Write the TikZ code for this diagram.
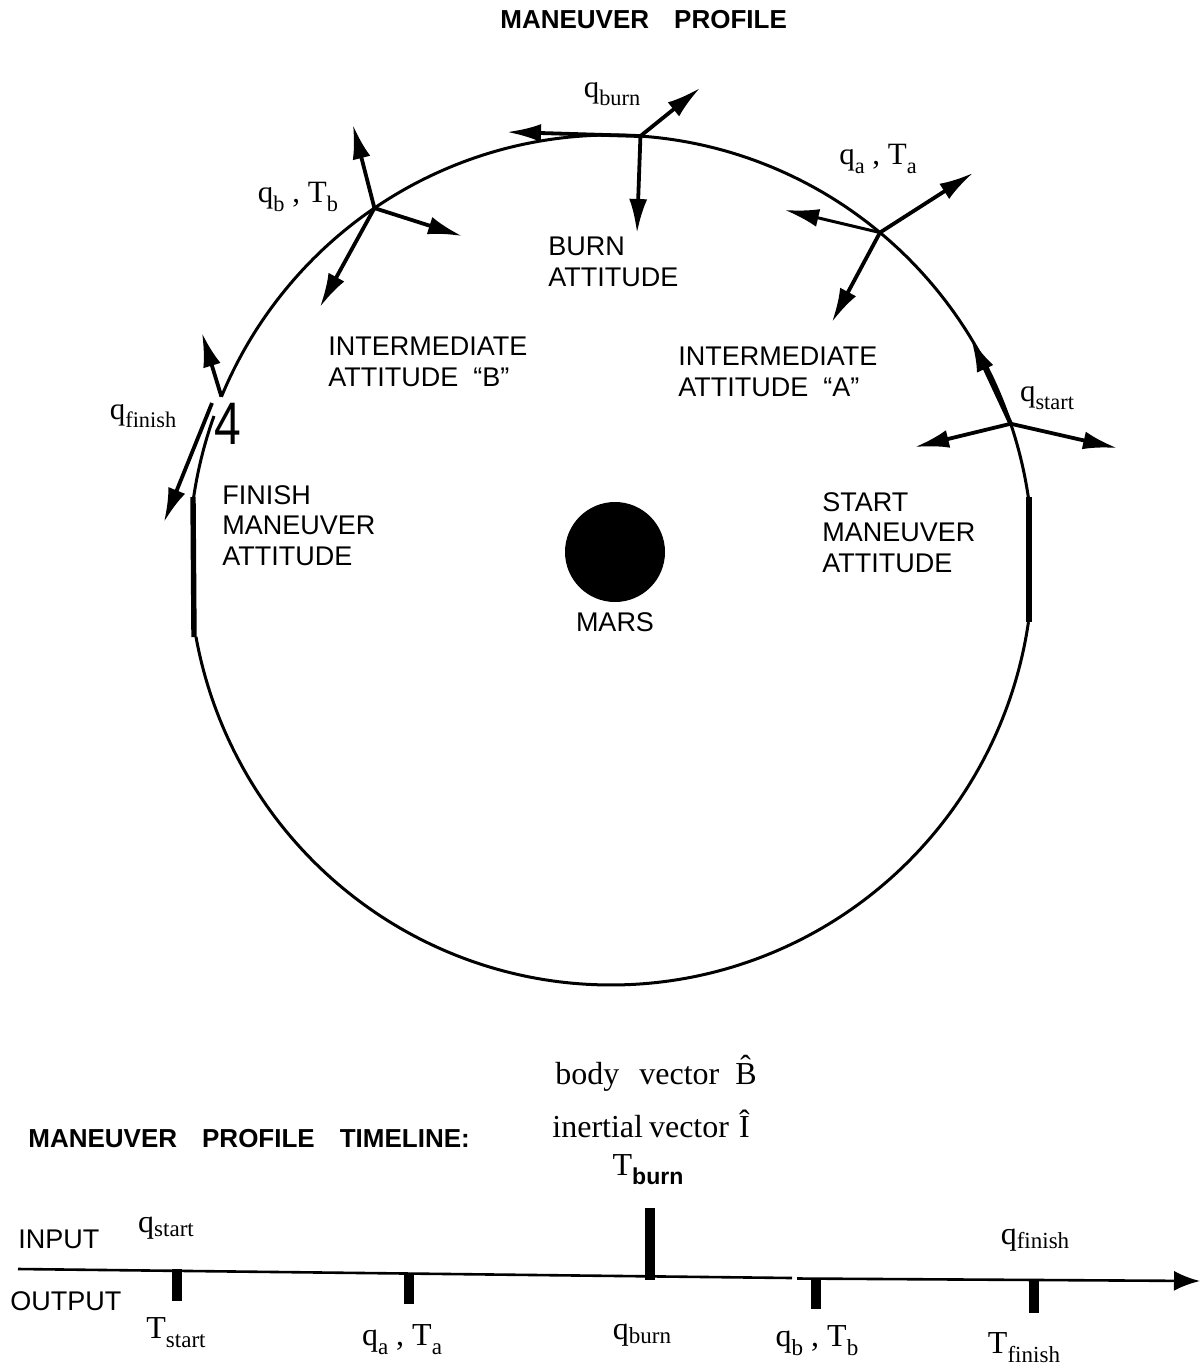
\documentclass[tikz,border=0pt]{standalone}
\usepackage{fontspec}
\setmainfont{Liberation Serif}
\setsansfont{Liberation Sans}
\usetikzlibrary{arrows.meta}

% lowered, reduced text used for the q/T indices
\newcommand\idx[1]{\raisebox{-0.28em}{\scalebox{0.72}{#1}}}
\newcommand\idxhi[1]{\raisebox{-0.12em}{\scalebox{0.72}{#1}}}

\begin{document}
\begin{tikzpicture}[x=0.5pt,y=-0.5pt,
  orbit/.style={line width=1.5pt},
  bar/.style={line width=2.7pt},
  vec/.style={line width=1.9pt,-{Latex[length=17pt,width=9pt]}},
  caption/.style={font=\sffamily\fontsize{13.5}{15.3}\selectfont,align=left,inner sep=0pt,anchor=north west},
  heading/.style={font=\sffamily\bfseries\fontsize{13}{15}\selectfont,inner sep=0pt,anchor=base west},
  qlab/.style={font=\fontsize{15.5}{17}\selectfont,inner sep=0pt},
  tlab/.style={font=\fontsize{16}{18}\selectfont,inner sep=0pt},
  timeline/.style={line width=1.3pt},
  tick/.style={line width=4.6pt},
]
\useasboundingbox (0,0) rectangle (1201,1366);

% ---------------- title ----------------
\node[heading] (title) at (500,28) {MANEUVER\hspace{12.5pt}PROFILE};

% ---------------- orbit ----------------
\draw[orbit] plot[domain=8.5:157.4,samples=160] ({611+422*cos(\x)},{560-425*sin(\x)});
\draw[orbit] plot[domain=160.2:171.5,samples=20] ({611+422*cos(\x)},{560-425*sin(\x)});
\draw[orbit] plot[domain=190.4:351.6,samples=170] ({611+422*cos(\x)},{560-425*sin(\x)});

% thick segments marking the start and finish attitudes
\coordinate (finTop) at (193,497);
\coordinate (finBot) at (194,637);
\coordinate (staTop) at (1029,497);
\coordinate (staBot) at (1029,622);
\draw[bar] (finTop) -- (finBot);
\draw[bar] (staTop) -- (staBot);

% Mars
\coordinate (mars) at (615,552);
\fill (mars) circle[radius=25pt];
\node[caption,anchor=north] (marslab) at (615,612) {MARS};

% ---------------- attitude points ----------------
\coordinate (pburn) at ({611+422*cos(86)},{560-425*sin(86)});
\coordinate (pa) at ({611+422*cos(50.4)},{560-425*sin(50.4)});
\coordinate (pb) at ({611+422*cos(124.1)},{560-425*sin(124.1)});
\coordinate (ps) at ({611+422*cos(18.7)},{560-425*sin(18.7)});
\coordinate (psTip) at ({611+422*cos(31.5)},{560-425*sin(31.5)});
\coordinate (pf) at ({611+422*cos(157.4)},{560-425*sin(157.4)});
\coordinate (pf2) at (212,403);

% burn attitude axes
\coordinate (burnDown) at (637,233);
\coordinate (burnUp) at (700,88);
\coordinate (burnLeft) at (507,132);
\draw[vec] (pburn) -- (burnDown);
\draw[vec] (pburn) -- (burnUp);
\draw[vec] (pburn) -- (burnLeft);

% intermediate attitude B
\coordinate (bUp) at (353,125);
\coordinate (bRight) at (462,236);
\coordinate (bDown) at (320,307);
\draw[vec] (pb) -- (bUp);
\draw[vec] (pb) -- (bRight);
\draw[vec] (pb) -- (bDown);

% intermediate attitude A
\coordinate (aUp) at (973,173);
\coordinate (aLeft) at (785,210);
\coordinate (aDown) at (832,322);
\draw[vec] (pa) -- (aUp);
\draw[vec,line width=1.5pt] (pa) -- (aLeft);
\draw[vec] (pa) -- (aDown);

% start attitude
\coordinate (sLeft) at (915,447);
\coordinate (sRight) at (1117,448);
\draw[vec] (ps) -- (sLeft);
\draw[vec] (ps) -- (sRight);
\draw[vec,line width=2.2pt] (ps) -- (psTip);

% finish attitude
\coordinate (fUp) at (202,333);
\coordinate (fDown) at (164,522);
\draw[vec] (pf) -- (fUp);
\draw[vec] (pf2) -- (fDown);

% ---------------- orbit labels ----------------
\node[qlab] (lburn) at (612,94) {q\idx{burn}};
\node[qlab] (lb) at (298,197) {q\idx{b} , T\idx{b}};
\node[qlab] (la) at (878,159) {q\idx{a} , T\idx{a}};
\node[qlab] (ls) at (1047,398) {q\idx{start}};
\node[qlab] (lf) at (143,416) {q\idx{finish}};
\node[inner sep=0pt,font=\sffamily\fontsize{30}{30}\selectfont] (four) at (228,424) {\scalebox{0.8}[1]{4}};

\node[caption] (tburn) at (548,237) {BURN\\ATTITUDE};
\node[caption] (tb) at (328,337) {INTERMEDIATE\\ATTITUDE\ \ “B”};
\node[caption] (ta) at (678,347) {INTERMEDIATE\\ATTITUDE\ \ “A”};
\node[caption] (tfin) at (222,485) {FINISH\\MANEUVER\\ATTITUDE};
\node[caption] (tsta) at (822,492) {START\\MANEUVER\\ATTITUDE};

% ---------------- timeline ----------------
\node[heading] (tlhead) at (28,1147) {MANEUVER\hspace{12.5pt}PROFILE\hspace{12.5pt}TIMELINE:};
\node[tlab,anchor=base west] (bodyv) at (555,1084) {body\hspace{10pt}vector\hspace{8pt}\^{B}};
\node[tlab,anchor=base west] (inertv) at (552,1137) {inertial\hspace{3pt}vector\hspace{5pt}Î};
\node[tlab] (Tburn) at (648,1170) {T\idx{\sffamily\bfseries burn}};

\node[caption,anchor=west] (input) at (18,1239) {INPUT};
\node[caption,anchor=west] (output) at (10,1301) {OUTPUT};

\coordinate (tl0) at (18,1269);
\coordinate (tl1) at (792,1278);
\coordinate (tl2) at (797,1278.5);
\coordinate (tlEnd) at (1200,1281);
\draw[timeline] (tl0) -- (tl1);
\draw[timeline,-{Latex[length=13pt,width=10pt]}] (tl2) -- (tlEnd);

\coordinate (kStart) at (177,1269);
\coordinate (kStartB) at (177,1301);
\coordinate (kA) at (409,1273);
\coordinate (kAB) at (409,1304);
\coordinate (kBurnT) at (650,1208);
\coordinate (kBurn) at (650,1280);
\coordinate (kB) at (816,1278);
\coordinate (kBB) at (816,1309);
\coordinate (kFin) at (1034,1281);
\coordinate (kFinB) at (1034,1313);
\draw[tick] (kStart) -- (kStartB);
\draw[tick] (kA) -- (kAB);
\draw[tick] (kBurnT) -- (kBurn);
\draw[tick] (kB) -- (kBB);
\draw[tick] (kFin) -- (kFinB);

\node[tlab] (tqstart) at (166,1228) {q\idxhi{start}};
\node[tlab] (tTstart) at (176,1333) {T\idx{start}};
\node[tlab] (tqa) at (402,1340) {q\idx{a} , T\idx{a}};
\node[tlab] (tqburn) at (642,1335) {q\idxhi{burn}};
\node[tlab] (tqb) at (817,1341) {q\idx{b} , T\idx{b}};
\node[tlab] (tqfin) at (1035,1240) {q\idxhi{finish}};
\node[tlab] (tTfin) at (1024,1348) {T\idx{finish}};
\end{tikzpicture}
\end{document}
